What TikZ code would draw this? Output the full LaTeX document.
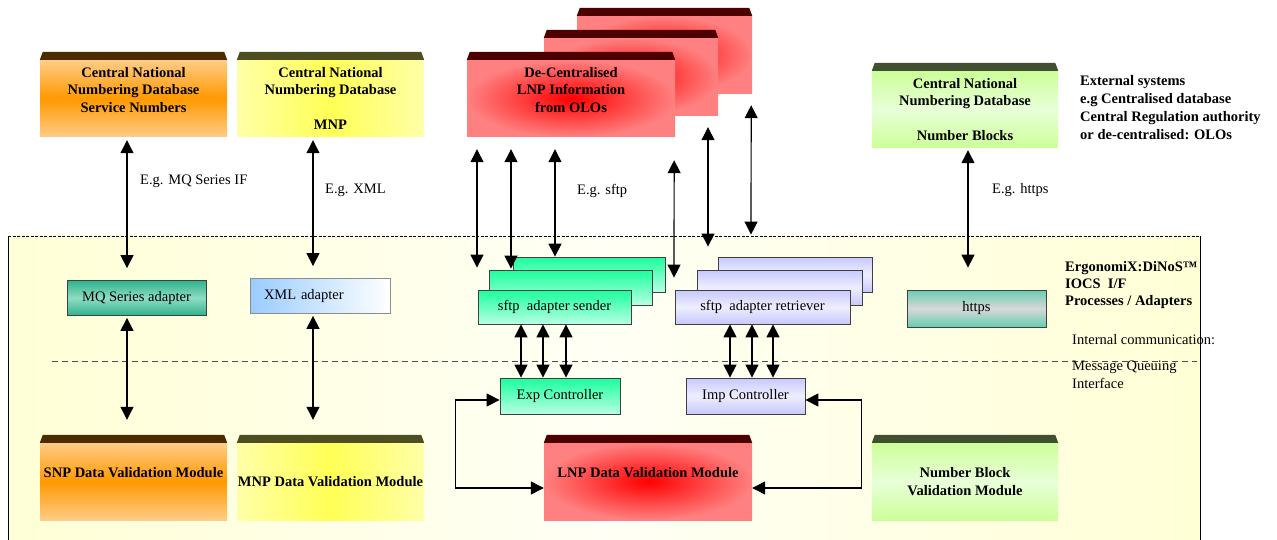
\documentclass[tikz,border=0pt]{standalone}
\usepackage{fontspec}
\setmainfont{Liberation Serif}
\usepackage{tikz}
\usetikzlibrary{positioning,arrows.meta}

\definecolor{orlight}{HTML}{FFCC88}
\definecolor{ormid}{HTML}{FF9900}
\definecolor{yellight}{HTML}{FFFFA8}
\definecolor{yelmid}{HTML}{FFFF55}
\definecolor{redlight}{HTML}{FF8080}
\definecolor{grnlight}{HTML}{CCFF99}
\definecolor{grnpale}{HTML}{E8FFD8}
\definecolor{mqteal}{HTML}{2EB38C}
\definecolor{mqlight}{HTML}{8EDDC3}
\definecolor{xmlblue}{HTML}{99CCFF}
\definecolor{sendtop}{HTML}{1AFF9C}
\definecolor{sendbot}{HTML}{B8FFE3}
\definecolor{rettop}{HTML}{C8C8FF}
\definecolor{retmid}{HTML}{EEEEFF}
\definecolor{httpteal}{HTML}{66CCB0}
\definecolor{httpgray}{HTML}{D8D8D8}
\definecolor{contyel}{HTML}{FFFFD6}
\definecolor{contwhite}{HTML}{FFFFF5}
\definecolor{bndor}{HTML}{4D2B00}
\definecolor{bndol}{HTML}{4D4F20}
\definecolor{bndrd}{HTML}{4D0000}
\definecolor{bndgr}{HTML}{3F4F30}

\begin{document}
\begin{tikzpicture}
  [x=1pt,y=-1pt,>={Triangle[width=13pt,length=13pt]},
   every node/.style={inner sep=0pt,align=center,font=\fontsize{14.5}{17.5}\selectfont},
   dbase/.style={minimum width=187pt,minimum height=77pt,font=\bfseries\fontsize{14.5}{17.5}\selectfont},
   adapter/.style={draw=black!75,line width=.8pt,minimum height=35pt},
   sendcol/.style={top color=sendtop,bottom color=sendbot},
   retcol/.style={top color=rettop,bottom color=rettop,middle color=retmid},
   link/.style={<->,line width=1.2pt},
   note/.style={anchor=west,align=left}]
  \useasboundingbox (0,0) rectangle (1277,540);

  % IOCS area
  \shade[left color=contyel,right color=contyel,middle color=contwhite] (8,236) rectangle (1200,560);
  \draw[line width=.8pt] (8,560) -- (8,236) (1200,236) -- (1200,560);
  \draw[line width=.8pt,dash pattern=on 3pt off 1.5pt] (8,236) -- (1200,236);
  \draw[black!70,dash pattern=on 6pt off 4pt] (52,361) -- (1197,361);

  % external systems
  \node[dbase,top color=orlight,bottom color=orlight,middle color=ormid] (snum) at (133.5,98.5) {Central National\\Numbering Database\\Service Numbers\\~};
  \node[dbase,left color=yellight,right color=yellight,middle color=yelmid] (mnpdb) at (330.5,98.5) {Central National\\Numbering Database\\~\\MNP};
  \node[dbase,minimum width=175pt,minimum height=78pt,inner color=red,outer color=redlight] (lnp3) at (664.5,55) {};
  \node[dbase,minimum width=174pt,minimum height=78pt,inner color=red,outer color=redlight] (lnp2) at (631,77) {};
  \node[dbase,minimum width=208pt,inner color=red,outer color=redlight] (lnpinfo) at (571,98.5) {De-Centralised\\LNP Information\\from OLOs\\~};
  \node[dbase,minimum width=186pt,top color=grnlight,bottom color=grnlight,middle color=grnpale] (nbdb) at (965,109.5) {Central National\\Numbering Database\\~\\Number Blocks};
  \node[note,font=\bfseries\fontsize{14.5}{18}\selectfont] (ext) at (1080,108) {External systems\\e.g Centralised database\\Central Regulation authority\\or de-centralised: OLOs};

  % adapters
  \node[adapter,minimum width=139pt,top color=mqteal,bottom color=mqteal,middle color=mqlight] (mqad) at (136.5,298) {MQ Series adapter};
  \node[adapter,draw=black!45,minimum width=140pt,text width=112pt,align=left,left color=xmlblue,right color=white] (xmlad) at (320,296) {XML adapter};
  \node[adapter,minimum width=152pt,sendcol] (snd3) at (589,274.5) {};
  \node[adapter,minimum width=163pt,sendcol] (snd2) at (570.5,287.5) {};
  \node[adapter,minimum width=153pt,minimum height=34pt,sendcol] (snd) at (554.5,307) {sftp~ adapter sender};
  \node[adapter,minimum width=154pt,retcol] (ret3) at (795,274.5) {};
  \node[adapter,minimum width=165pt,retcol] (ret2) at (779.5,287.5) {};
  \node[adapter,minimum width=175pt,minimum height=34pt,retcol] (ret) at (762.5,307) {sftp~ adapter retriever};
  \node[adapter,minimum width=139pt,minimum height=37pt,top color=httpteal,bottom color=httpteal,middle color=httpgray] (https) at (976.5,308.5) {https};
  \node[adapter,minimum width=120pt,minimum height=36pt,sendcol] (expc) at (560,396) {Exp Controller};
  \node[adapter,minimum width=119pt,minimum height=36pt,retcol] (impc) at (745.5,396) {Imp Controller};

  % validation modules
  \node[dbase,top color=orlight,bottom color=orlight,middle color=ormid] (snp) at (133.5,481.5) {SNP Data Validation Module\\~};
  \node[dbase,left color=yellight,right color=yellight,middle color=yelmid] (mnpv) at (330.5,481.5) {MNP Data Validation Module};
  \node[dbase,minimum width=208pt,inner color=red,outer color=redlight] (lnpv) at (648,481.5) {LNP Data Validation Module\\~};
  \node[dbase,minimum width=186pt,top color=grnlight,bottom color=grnlight,middle color=grnpale] (nbv) at (965,481.5) {Number Block\\Validation Module};

  % box tops
  \foreach \n/\c in {snum/bndor,mnpdb/bndol,lnp3/bndrd,lnp2/bndrd,lnpinfo/bndrd,nbdb/bndgr,snp/bndor,mnpv/bndol,lnpv/bndrd,nbv/bndgr}
    \fill[\c] (\n.north west) -- ([shift={(3,-8)}]\n.north west) -- ([shift={(-3,-8)}]\n.north east) -- (\n.north east) -- cycle;

  % labels
  \node[note] (lmq) at (140,181) {E.g. MQ Series IF};
  \node[note] (lxml) at (325,190) {E.g. XML};
  \node[note] (lsftp) at (577,191) {E.g. sftp};
  \node[note] (lhttps) at (992,190) {E.g. https};
  \node[note,font=\bfseries\fontsize{14.5}{17}\selectfont] (ergo) at (1065,285) {ErgonomiX:DiNoS™\\IOCS~ I/F\\Processes / Adapters};
  \node[note] (intc) at (1072,340) {Internal communication:};
  \node[note,font=\fontsize{14.5}{18}\selectfont] (mqif) at (1072,375) {Message Queuing\\Interface};

  % links
  \draw[link,shorten <=3pt,shorten >=12pt] ([xshift=-6.5pt]snum.south) -- ([xshift=-9.5pt]mqad.north);
  \draw[link,shorten <=2pt,shorten >=23pt] ([xshift=-9.5pt]mqad.south) -- ([xshift=-6.5pt]snp.north);
  \draw[link,shorten <=3pt,shorten >=12pt] ([xshift=-17.5pt]mnpdb.south) -- ([xshift=-7pt]xmlad.north);
  \draw[link,shorten <=2pt,shorten >=23pt] ([xshift=-7pt]xmlad.south) -- ([xshift=-17.5pt]mnpv.north);
  \draw[link,shorten <=12pt,shorten >=22pt] ([xshift=-94pt]lnpinfo.south) -- ([xshift=-77.5pt]snd.north);
  \draw[link,shorten <=12pt,shorten >=1pt] ([xshift=-60pt]lnpinfo.south) -- ([xshift=-59.5pt]snd2.north);
  \draw[link,shorten <=12pt] ([xshift=-16pt]lnpinfo.south) -- ([xshift=-34pt]snd3.north);
  \draw[link,shorten <=23pt,shorten >=12pt] ([xshift=-1pt]lnpinfo.south east) -- ([xshift=-88.5pt]ret.north);
  \draw[link,shorten <=11pt,shorten >=23pt] ([xshift=77pt]lnp2.south) -- ([xshift=-71.5pt]ret2.north);
  \draw[link,shorten <=11pt,shorten >=22pt] ([xshift=-1pt]lnp3.south east) -- ([xshift=-44pt]ret3.north);
  \draw[link,shorten <=2pt,shorten >=22pt] ([xshift=3pt]nbdb.south) -- ([xshift=-8.5pt]https.north);
  \foreach \dx in {-33.5,-11.5,11.5}
    \draw[link] ([xshift=\dx]snd.south) -- ([xshift=\dx]snd.south |- expc.north);
  \foreach \dx in {-32.5,-10.5,10.5}
    \draw[link] ([xshift=\dx]ret.south) -- ([xshift=\dx]ret.south |- impc.north);
  \draw[link] ([yshift=-4pt]expc.west) -- ++(-44,0) |- ([yshift=-6.5pt]lnpv.west);
  \draw[link] ([yshift=-4pt]impc.east) -- ++(56,0) |- ([yshift=-6.5pt]lnpv.east);
\end{tikzpicture}
\end{document}
